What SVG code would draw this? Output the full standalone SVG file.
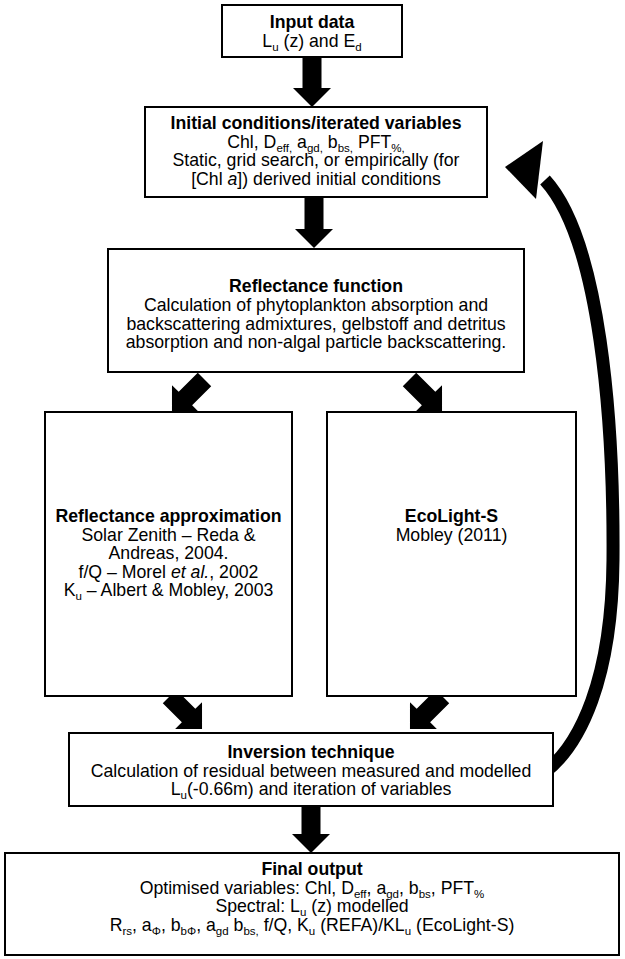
<svg xmlns="http://www.w3.org/2000/svg" xmlns:xlink="http://www.w3.org/1999/xlink" width="625" height="959" viewBox="0 0 625 959">
<style>
text{font-family:"Liberation Sans",Arial,sans-serif;font-size:17.7px;fill:#000;text-anchor:middle}
.b{font-weight:bold}
.s{font-size:11.5px}
.box{fill:#fff;stroke:#000;stroke-width:2}
.arr{fill:#000}
.curve{fill:none;stroke:#000;stroke-width:13}
</style>
<defs>
<path id="down" d="M-9.5,0 H9.5 V31 H19 L0,50 L-19,31 H-9.5 Z"/>
<path id="diag" d="M-9.5,0 H9.5 V27 H19 L0,46 L-19,27 H-9.5 Z"/>
</defs>
<g id="connectors">
<use xlink:href="#down" class="arr" transform="translate(312,57)"/>
<use xlink:href="#down" class="arr" transform="translate(314,198)"/>
<use xlink:href="#diag" class="arr" transform="translate(204.5,379.5) rotate(45)"/>
<use xlink:href="#diag" class="arr" transform="translate(409.5,379.5) rotate(-45)"/>
<use xlink:href="#diag" class="arr" transform="translate(169.5,696.5) rotate(-45)"/>
<use xlink:href="#diag" class="arr" transform="translate(442.5,696.5) rotate(45)"/>
<use xlink:href="#down" class="arr" transform="translate(311,803)"/>
<path class="curve" d="M545,772 C580,745 612,680 613,560 C614,420 600,240 545,180"/>
<polygon class="arr" points="505,167 543,141 536,199"/>
</g>
<g id="input">
<rect class="box" x="222" y="5" width="180" height="52"/>
<text x="312" y="28" class="b">Input data</text>
<text x="312" y="47">L<tspan class="s" dy="4">u</tspan><tspan dy="-4"> (z) and E</tspan><tspan class="s" dy="4">d</tspan></text>
</g>
<g id="initial">
<rect class="box" x="145" y="107" width="342" height="90"/>
<text x="316" y="129" class="b">Initial conditions/iterated variables</text>
<text x="316" y="147.5">Chl, D<tspan class="s" dy="4">eff,</tspan><tspan dy="-4"> a</tspan><tspan class="s" dy="4">gd,</tspan><tspan dy="-4"> b</tspan><tspan class="s" dy="4">bs,</tspan><tspan dy="-4"> PFT</tspan><tspan class="s" dy="4">%,</tspan></text>
<text x="316" y="166">Static, grid search, or empirically (for</text>
<text x="316" y="184.5">[Chl <tspan font-style="italic">a</tspan>]) derived initial conditions</text>
</g>
<g id="reflfunc">
<rect class="box" x="108" y="249" width="416" height="123"/>
<text x="316" y="292" class="b">Reflectance function</text>
<text x="316" y="311">Calculation of phytoplankton absorption and</text>
<text x="316" y="329.5">backscattering admixtures, gelbstoff and detritus</text>
<text x="316" y="348">absorption and non-algal particle backscattering.</text>
</g>
<g id="reflapprox">
<rect class="box" x="45" y="412" width="247" height="284"/>
<text x="168.5" y="522" class="b">Reflectance approximation</text>
<text x="168.5" y="540.5">Solar Zenith – Reda &amp;</text>
<text x="168.5" y="559">Andreas, 2004.</text>
<text x="168.5" y="577.5">f/Q – Morel <tspan font-style="italic">et al.</tspan>, 2002</text>
<text x="168.5" y="596">K<tspan class="s" dy="4">u</tspan><tspan dy="-4"> – Albert &amp; Mobley, 2003</tspan></text>
</g>
<g id="ecolight">
<rect class="box" x="327" y="412" width="249" height="284"/>
<text x="451.5" y="522" class="b">EcoLight-S</text>
<text x="451.5" y="540.5">Mobley (2011)</text>
</g>
<g id="inversion">
<rect class="box" x="69" y="733" width="484" height="73"/>
<text x="311" y="758" class="b">Inversion technique</text>
<text x="311" y="776.5">Calculation of residual between measured and modelled</text>
<text x="311" y="795">L<tspan class="s" dy="4">u</tspan><tspan dy="-4">(-0.66m) and iteration of variables</tspan></text>
</g>
<g id="final">
<rect class="box" x="5" y="853" width="614" height="102"/>
<text x="312" y="875" class="b">Final output</text>
<text x="312" y="893.5">Optimised variables: Chl, D<tspan class="s" dy="4">eff</tspan><tspan dy="-4">, a</tspan><tspan class="s" dy="4">gd</tspan><tspan dy="-4">, b</tspan><tspan class="s" dy="4">bs</tspan><tspan dy="-4">, PFT</tspan><tspan class="s" dy="4">%</tspan></text>
<text x="312" y="912">Spectral: L<tspan class="s" dy="4">u</tspan><tspan dy="-4"> (z) modelled</tspan></text>
<text x="312" y="930.5">R<tspan class="s" dy="4">rs</tspan><tspan dy="-4">, a</tspan><tspan class="s" dy="4">Φ</tspan><tspan dy="-4">, b</tspan><tspan class="s" dy="4">bΦ</tspan><tspan dy="-4">, a</tspan><tspan class="s" dy="4">gd</tspan><tspan dy="-4"> b</tspan><tspan class="s" dy="4">bs,</tspan><tspan dy="-4"> f/Q, K</tspan><tspan class="s" dy="4">u</tspan><tspan dy="-4"> (REFA)/KL</tspan><tspan class="s" dy="4">u</tspan><tspan dy="-4"> (EcoLight-S)</tspan></text>
</g>
</svg>
